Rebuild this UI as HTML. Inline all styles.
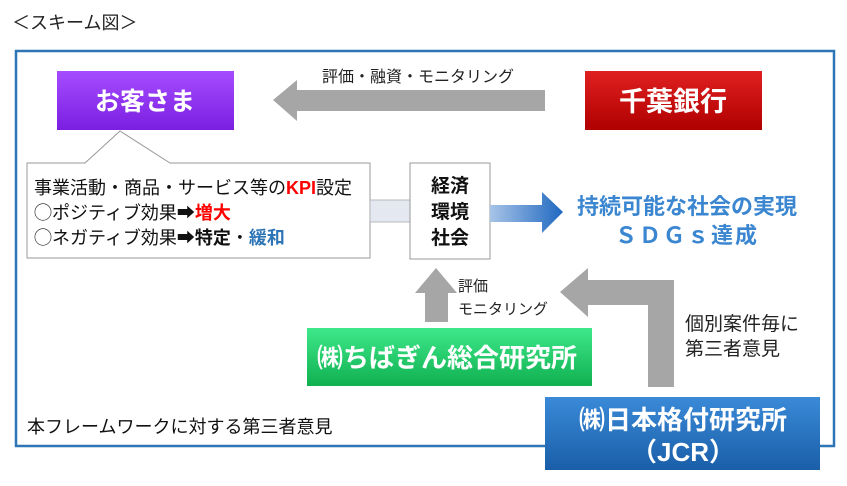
<!DOCTYPE html>
<html><head><meta charset="utf-8"><style>
body{margin:0;background:#fff;}
svg text{font-family:"Liberation Sans","Noto Sans CJK JP",sans-serif;}
</style></head><body>
<svg width="847" height="481" viewBox="0 0 847 481" xmlns="http://www.w3.org/2000/svg">
<defs>
<linearGradient id="pur" x1="0" y1="0" x2="0" y2="1"><stop offset="0" stop-color="#a64cff"/><stop offset="1" stop-color="#7a1fe0"/></linearGradient>
<linearGradient id="red" x1="0" y1="0" x2="0" y2="1"><stop offset="0" stop-color="#e02020"/><stop offset="1" stop-color="#b00000"/></linearGradient>
<linearGradient id="grn" x1="0" y1="0" x2="0" y2="1"><stop offset="0" stop-color="#3ee88a"/><stop offset="1" stop-color="#10b050"/></linearGradient>
<linearGradient id="blu" x1="0" y1="0" x2="0" y2="1"><stop offset="0" stop-color="#3a8ad8"/><stop offset="1" stop-color="#1a5ea8"/></linearGradient>
<linearGradient id="arr" x1="0" y1="0" x2="1" y2="0"><stop offset="0" stop-color="#a8c4e8"/><stop offset="1" stop-color="#1f68c0"/></linearGradient>
</defs>
<text x="12" y="29" font-size="18" fill="#222">＜スキーム図＞</text>
<rect x="16" y="51" width="818" height="395" fill="none" stroke="#2e75b6" stroke-width="2.5"/>
<polygon points="273,100 297,80 297,90 545,90 545,111 297,111 297,121" fill="#a6a6a6"/>
<text x="418" y="82" font-size="16" text-anchor="middle" fill="#222">評価・融資・モニタリング</text>
<rect x="57" y="71" width="177" height="59" fill="url(#pur)"/>
<text x="145" y="110" font-size="25" font-weight="bold" fill="#fff" text-anchor="middle">お客さま</text>
<rect x="585" y="71" width="177" height="59" fill="url(#red)"/>
<text x="673" y="111" font-size="27" font-weight="bold" fill="#fff" text-anchor="middle">千葉銀行</text>
<path d="M27,163 L85,163 L120,131 L170,163 L370,163 L370,258 L27,258 Z" fill="#fff" stroke="#999" stroke-width="1"/>
<text x="34" y="194" font-size="18" fill="#111">事業活動・商品・サービス等の<tspan fill="#ff0000" font-weight="bold">KPI</tspan>設定</text>
<text x="34" y="219" font-size="18" fill="#111">◯ポジティブ効果<tspan font-weight="bold">➡</tspan><tspan fill="#ff0000" font-weight="bold">増大</tspan></text>
<text x="34" y="244" font-size="18" fill="#111">◯ネガティブ効果<tspan font-weight="bold">➡特定</tspan>・<tspan fill="#2e75b6" font-weight="bold">緩和</tspan></text>
<rect x="370" y="200" width="40" height="22" fill="#e4e8f0" stroke="#aaa" stroke-width="0.8"/>
<rect x="410" y="163" width="80" height="96" fill="#fff" stroke="#999" stroke-width="1"/>
<text x="450" y="192" font-size="19" font-weight="bold" text-anchor="middle" fill="#111">経済</text>
<text x="450" y="218" font-size="19" font-weight="bold" text-anchor="middle" fill="#111">環境</text>
<text x="450" y="244" font-size="19" font-weight="bold" text-anchor="middle" fill="#111">社会</text>
<polygon points="490,205 542,205 542,192 563,212 542,233 542,222 490,222" fill="url(#arr)"/>
<text x="687" y="214" font-size="22" font-weight="bold" text-anchor="middle" fill="#3a86d0">持続可能な社会の実現</text>
<text x="687" y="243" font-size="22" font-weight="bold" text-anchor="middle" fill="#3a86d0" letter-spacing="2">ＳＤＧｓ達成</text>
<polygon points="436,268 457,293 448,293 448,322 425,322 425,293 415,293" fill="#a6a6a6"/>
<text x="458" y="291" font-size="15" fill="#222">評価</text>
<text x="458" y="314" font-size="15" fill="#222">モニタリング</text>
<polygon points="560,292 588,268 588,280 674,280 674,387 648,387 648,305 588,305 588,317" fill="#a6a6a6"/>
<text x="685" y="330" font-size="19" fill="#222">個別案件毎に</text>
<text x="685" y="355" font-size="19" fill="#222">第三者意見</text>
<rect x="307" y="328" width="285" height="58" fill="url(#grn)"/>
<text x="447" y="367" font-size="26" font-weight="bold" fill="#fff" text-anchor="middle">㈱ちばぎん総合研究所</text>
<text x="27" y="433" font-size="18" fill="#111">本フレームワークに対する第三者意見</text>
<rect x="545" y="397" width="275" height="73" fill="url(#blu)"/>
<text x="683" y="429" font-size="26" font-weight="bold" fill="#fff" text-anchor="middle">㈱日本格付研究所</text>
<text x="683" y="461" font-size="26" font-weight="bold" fill="#fff" text-anchor="middle">（JCR）</text>
</svg>
</body></html>
